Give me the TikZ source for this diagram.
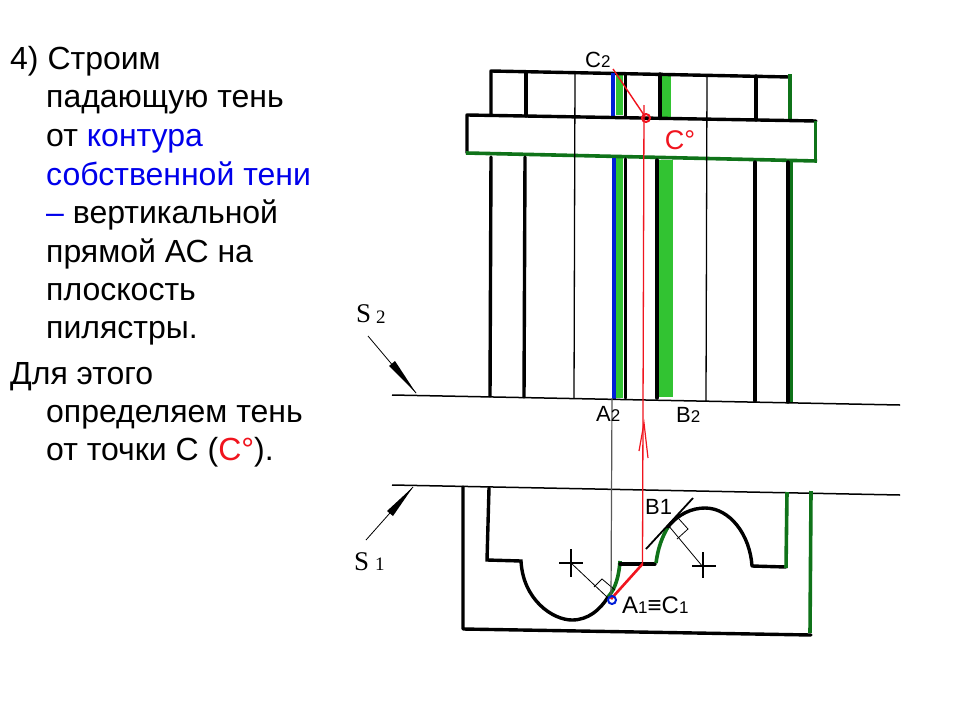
\documentclass[tikz,border=0pt]{standalone}
\usepackage{fontspec}
\setmainfont{Liberation Sans}
\newfontfamily\serifS{Liberation Serif}
\definecolor{dgreen}{RGB}{15,115,25}
\definecolor{lgreen}{RGB}{50,195,50}
\definecolor{bblue}{RGB}{0,30,215}
\definecolor{rred}{RGB}{240,20,30}
\definecolor{txtblue}{RGB}{0,0,235}
\tikzset{
 wall/.style={draw=black,line width=3.4pt,line cap=round,line join=round},
 thinwall/.style={draw=black,line width=1.3pt},
 greenline/.style={draw=dgreen,line width=3.6pt},
 thinline/.style={draw=black,line width=0.8pt},
 body/.style={anchor=base west,inner sep=0pt,font=\fontsize{32}{32}\selectfont},
 lab/.style={inner sep=0pt,anchor=base west,font=\fontsize{22}{22}\selectfont},
}
\newcommand{\smallidx}[1]{{\fontsize{17}{17}\selectfont #1}}
\begin{document}
\begin{tikzpicture}[x=1pt,y=-1pt]
\useasboundingbox[fill=white] (0,0) rectangle (960,720);
% coordinates
\coordinate (C2) at (613,69);
\coordinate (C0) at (646,118);
\coordinate (Tick) at (644,105);
\coordinate (Bend) at (642.5,564);
\coordinate (A1) at (611,599);
\coordinate (A2) at (612,398);
% green fills, elevation
\fill[lgreen] (616,73) rectangle (623,115);
\fill[lgreen] (661,74) rectangle (671,117);
\fill[lgreen] (612,158) rectangle (623,398);
\fill[lgreen] (658,160) rectangle (673,397);
% top part
\draw[wall] (491,115) -- (491,71) -- (790,77);
\draw[wall] (526,72) -- (526,116);
\draw[wall] (625.5,74) -- (625.5,116);
\draw[wall] (660,74) -- (660,117);
\draw[wall] (756,76) -- (756,120);
\draw[greenline] (790,74) -- (790,120);
\draw[draw=bblue,line width=4.2pt] (613,73) -- (613,116);
% shelf
\draw[wall] (467,153) -- (467,115) -- (816,121);
\draw[greenline] (466,153) -- (817,161);
\draw[greenline] (815.5,121) -- (815.5,161);
% verticals below
\draw[wall] (491,157) -- (490,396);
\draw[wall] (525,157) -- (524,397);
\draw[thinwall] (575,72) -- (574,398);
\draw[thinwall] (707,75) -- (706,401);
\draw[wall] (625.5,159) -- (625.5,398);
\draw[wall] (657,160) -- (657,398);
\draw[wall] (755,162) -- (755,401);
\draw[wall] (788,162) -- (788,402);
\draw[draw=dgreen,line width=3pt] (791,162) -- (791,402);
\draw[draw=bblue,line width=4.2pt] (614,158) -- (614,400);
% section lines
\draw[draw=black,line width=1.5pt] (392,395) -- (900,405);
\draw[draw=black,line width=1.5pt] (392,485) -- (900,495);
% plan
\draw[wall] (463,487) -- (463,629) -- (811,635);
\draw[greenline] (811,491) -- (810,633);
\draw[wall,line join=miter] (489,488) -- (487,560) -- (521,561)
  .. controls (523,600) and (553,620) .. (572,620)
  .. controls (588,620) and (600,610) .. (608,597);
\draw[greenline] (608,597) .. controls (616,588) and (619,575) .. (620,561);
\draw[wall] (620,564) -- (655,564);
\draw[greenline] (656,563) .. controls (658,548) and (662,537) .. (668,527);
\draw[wall] (668,527) .. controls (678,514) and (692,508) .. (705,508)
  .. controls (730,508) and (750,535) .. (752,566) -- (786,567);
\draw[greenline] (786,568) -- (787,492);
% crosses and radii
\draw[draw=black,line width=2.6pt] (559,563) -- (583,563) (571,549) -- (571,577);
\draw[draw=black,line width=2.6pt] (692,566) -- (716,566) (703,552) -- (703,578);
\draw[thinline] (571,563) -- (607,597);
\draw[thinline] (594,587) -- (602,579) -- (615,590);
\draw[thinline] (703,567) -- (668,525);
\draw[thinline] (677,539) -- (688,529) -- (679,519);
\draw[draw=black,line width=1.8pt] (646,549) -- (693,498);
% rays
\draw[draw=black!65,line width=1.2pt] (A2) -- (A1);
\draw[draw=rred,line width=1.4pt] (C2) -- (C0);
\draw[draw=rred,line width=1.3pt] (Tick) -- (Bend);
\draw[draw=rred,line width=2.6pt] (Bend) -- (A1);
\draw[draw=rred,line width=1.2pt] (639,451) -- (644,423) -- (648,458);
\draw[draw=rred,line width=2pt] (C0) circle[radius=4];
\fill[black] (C0) circle[radius=1.5];
\draw[draw=bblue,line width=2pt] (612,600) circle[radius=4];
% arrows
\draw[thinline] (368,336) -- (416,393);
\fill[black] (389,366) -- (395,361) -- (416,393) -- cycle;
\draw[thinline] (366,540) -- (413,487);
\fill[black] (387,511) -- (393,516) -- (413,487) -- cycle;
% labels
\node[lab] (lc2) at (585,67) {C\smallidx{2}};
\node[lab,text=rred,anchor=base,font=\fontsize{27}{27}\selectfont] (lc0) at (680,149) {C°};
\node[lab] (la2) at (596,421) {A\smallidx{2}};
\node[lab] (lb2) at (676,422) {B\smallidx{2}};
\node[lab] (lb1) at (645,514) {B1};
\node[lab,font=\fontsize{24}{24}\selectfont] (la1) at (622,613) {A\smallidx{1}≡C\smallidx{1}};
\node[lab,font=\serifS\fontsize{27}{27}\selectfont] (s2) at (356,322) {S};
\node[lab,font=\serifS\fontsize{19}{19}\selectfont] (s2i) at (376,323) {2};
\node[lab,font=\serifS\fontsize{27}{27}\selectfont] (s1) at (354,570) {S};
\node[lab,font=\serifS\fontsize{19}{19}\selectfont] (s1i) at (375,570) {1};
% text
\node[body] (t1) at (10,69) {4) Строим};
\node[body] (t2) at (46,107) {падающую тень};
\node[body] (t3) at (46,146) {от \textcolor{txtblue}{контура}};
\node[body,text=txtblue] (t4) at (46,185) {собственной тени};
\node[body] (t5) at (46,223) {\textcolor{txtblue}{–} вертикальной};
\node[body] (t6) at (46,262) {прямой АС на};
\node[body] (t7) at (46,300) {плоскость};
\node[body] (t8) at (46,338) {пилястры.};
\node[body] (t9) at (10,384) {Для этого};
\node[body] (t10) at (46,422) {определяем тень};
\node[body] (t11) at (46,460) {от точки С (\textcolor{rred}{С°}).};
\end{tikzpicture}
\end{document}
